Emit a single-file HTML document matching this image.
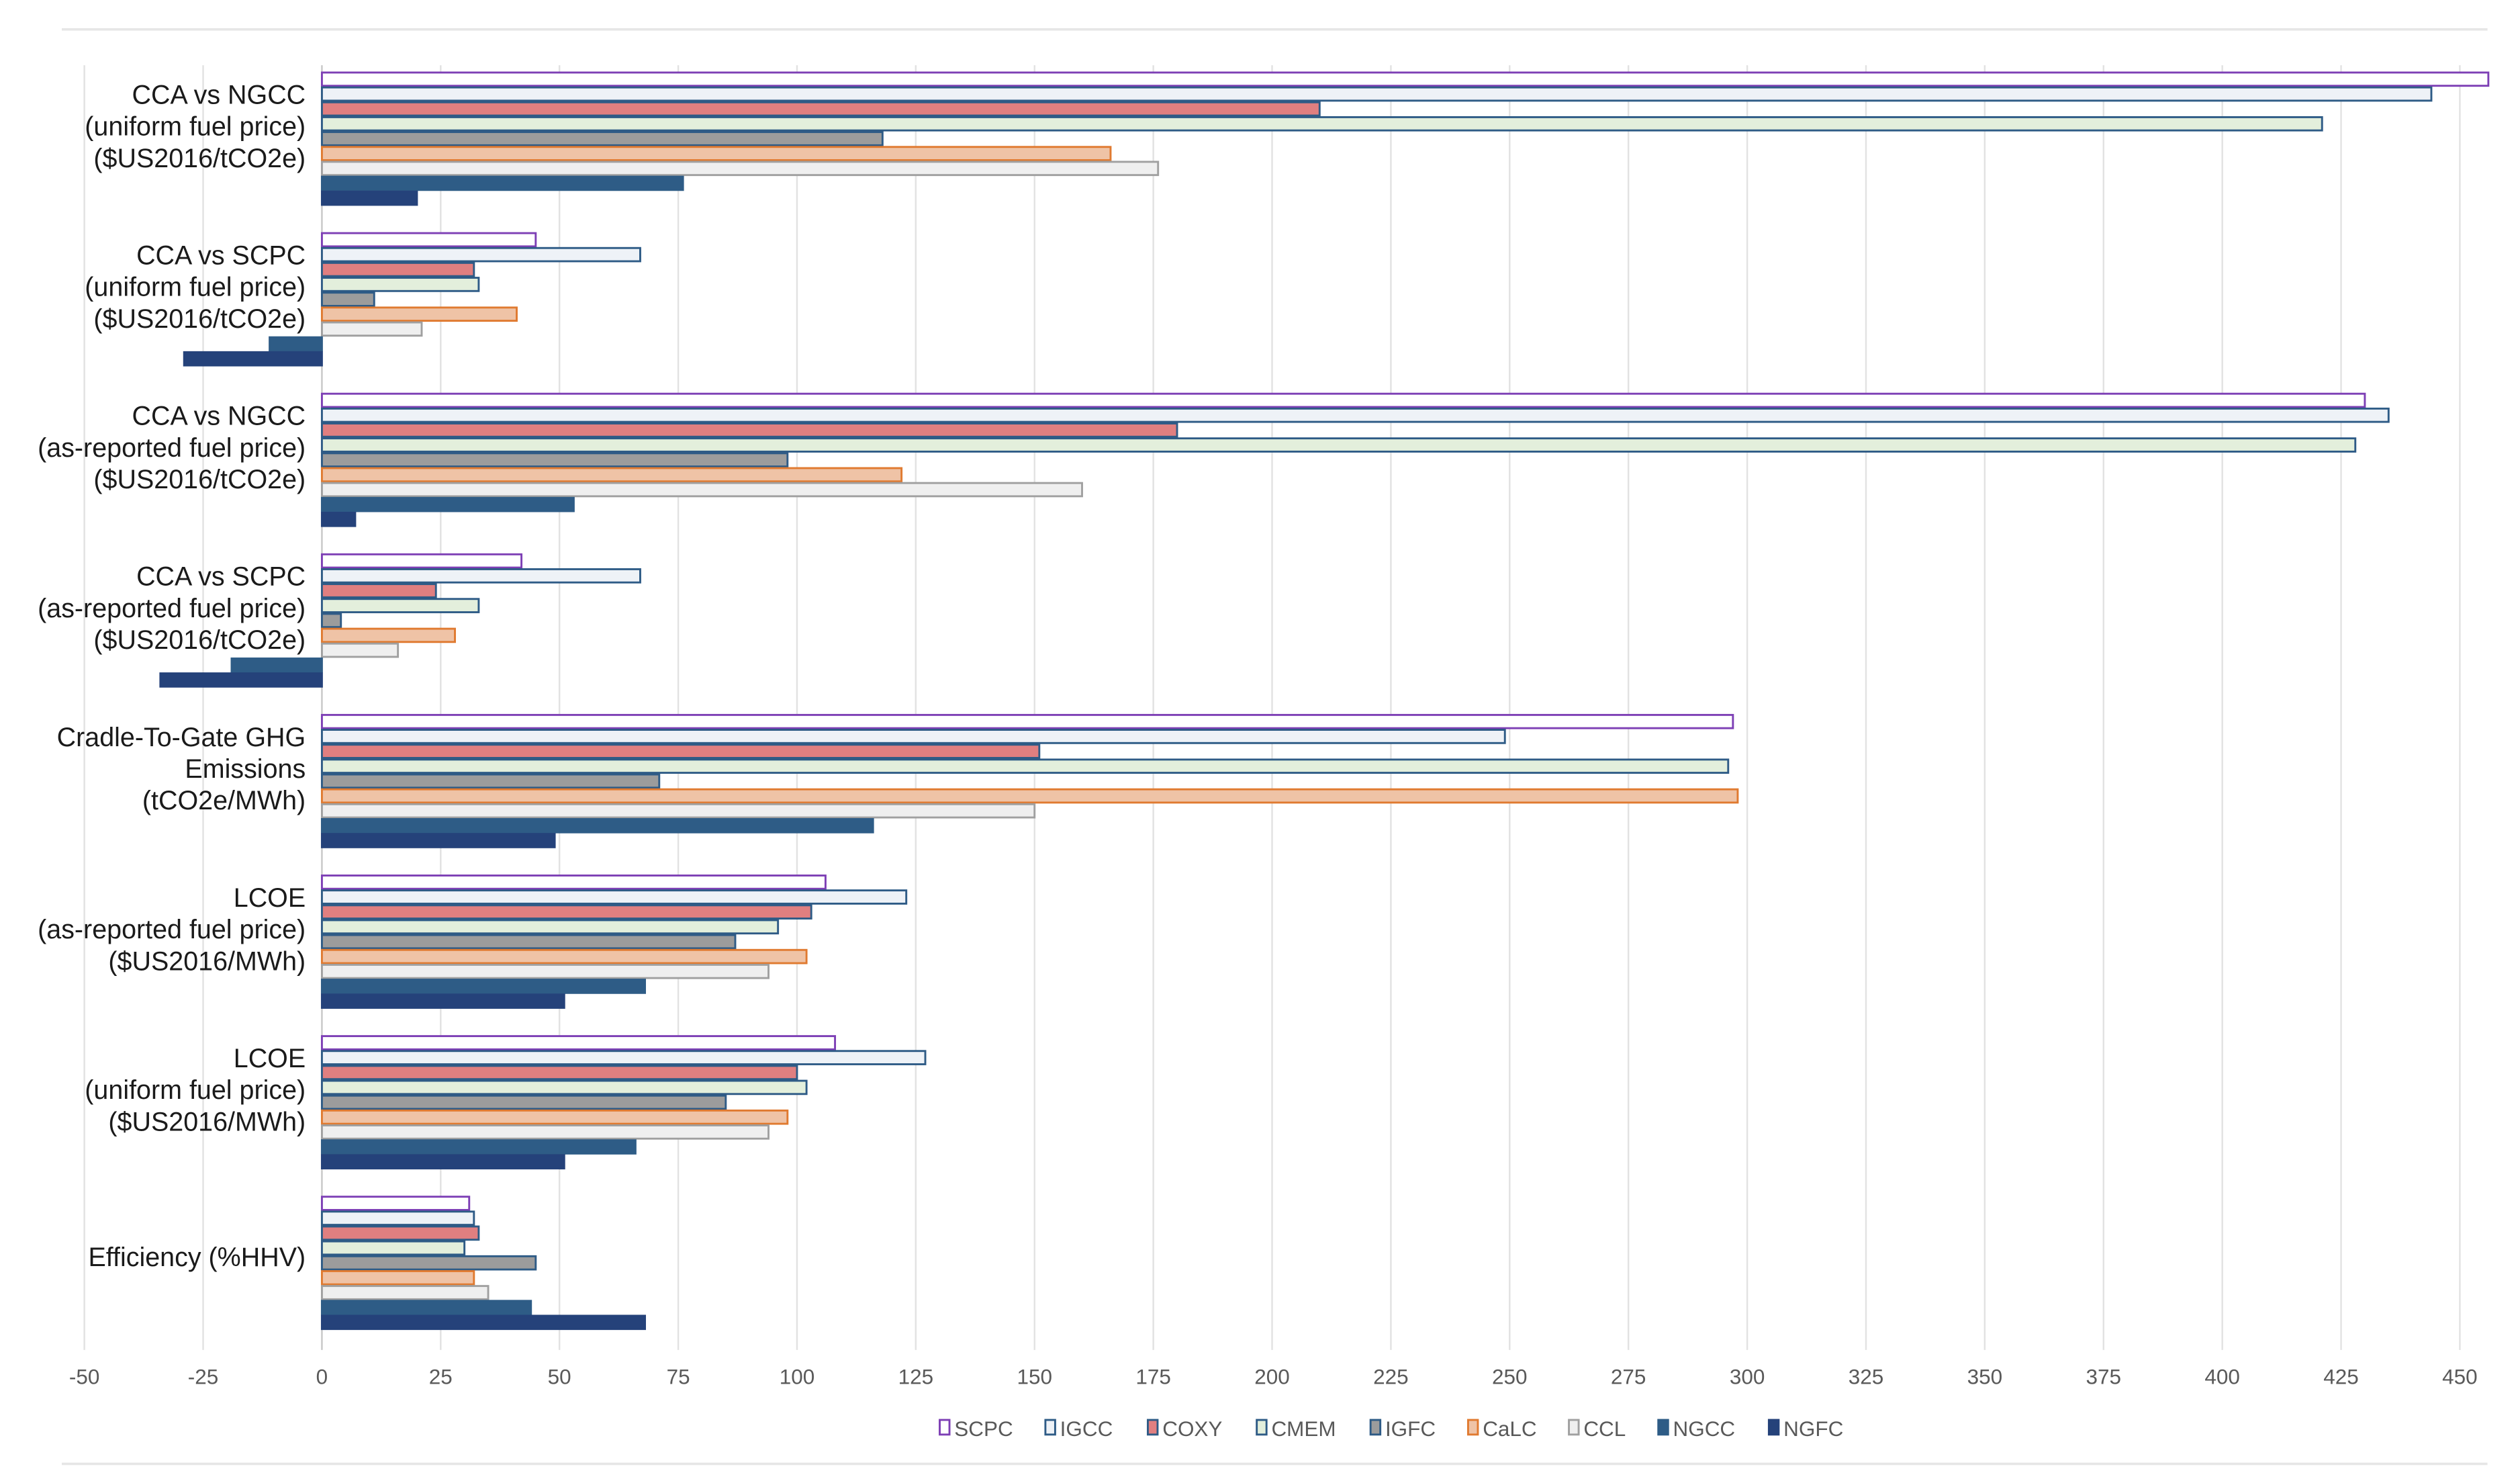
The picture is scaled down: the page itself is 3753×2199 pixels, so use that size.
<!DOCTYPE html>
<html><head><meta charset="utf-8"><style>
html,body{margin:0;padding:0;background:#fff;}
svg{display:block;font-family:"Liberation Sans",Arial,sans-serif;}
</style></head><body>
<svg id="chart" width="3753" height="2199" viewBox="0 0 1550 908" xmlns="http://www.w3.org/2000/svg">
<line x1="38" y1="18" x2="1530" y2="18" stroke="#e6e6e6" stroke-width="1.5"/>
<line x1="38" y1="900" x2="1530" y2="900" stroke="#e6e6e6" stroke-width="1.5"/>
<g id="grid"></g>
<g id="bars"></g>
<g id="labels"></g>
<g id="ticks"></g>
<g id="legend"></g>
</svg>
<script>
const categories = [
  ["CCA vs NGCC","(uniform fuel price)","($US2016/tCO2e)"],
  ["CCA vs SCPC","(uniform fuel price)","($US2016/tCO2e)"],
  ["CCA vs NGCC","(as-reported fuel price)","($US2016/tCO2e)"],
  ["CCA vs SCPC","(as-reported fuel price)","($US2016/tCO2e)"],
  ["Cradle-To-Gate GHG","Emissions","(tCO2e/MWh)"],
  ["LCOE","(as-reported fuel price)","($US2016/MWh)"],
  ["LCOE","(uniform fuel price)","($US2016/MWh)"],
  ["Efficiency (%HHV)"]
];
const seriesNames = ["SCPC","IGCC","COXY","CMEM","IGFC","CaLC","CCL","NGCC","NGFC"];
const SCPC = [456,45,430,42,297,106,108,31];
const IGCC = [444,67,435,67,249,123,127,32];
const COXY = [210,32,180,24,151,103,100,33];
const CMEM = [421,33,428,33,296,96,102,30];
const IGFC = [118,11,98,4,71,87,85,45];
const CaLC = [166,41,122,28,298,102,98,32];
const CCL  = [176,21,160,16,150,94,94,35];
const NGCC = [76,-11,53,-19,116,68,66,44];
const NGFC = [20,-29,7,-34,49,51,51,68];
const tickValues = [-50,-25,0,25,50,75,100,125,150,175,200,225,250,275,300,325,350,375,400,425,450];

const seriesData = [SCPC,IGCC,COXY,CMEM,IGFC,CaLC,CCL,NGCC,NGFC];
const fills = ["#ffffff","#eef2f7","#e07f80","#e3efdc","#9c9c9c","#efc3a6","#efefef","#2e5c86","#25427a"];
const strokes = ["#7d3fb5","#2e5b86","#2e5b86","#2e5b86","#2e5b86","#e07a30","#a0a0a0","#2e5c86","#25427a"];
const NS="http://www.w3.org/2000/svg";
const x0=198, pxPer=(1513-198)/450, plotTop=40, plotBot=830;
const groupH=(plotBot-plotTop)/categories.length, barH=9.15, pad=4.5;
function xs(v){return x0+v*pxPer;}
function mk(tag,attrs,parent){const e=document.createElementNS(NS,tag);for(const k in attrs)e.setAttribute(k,attrs[k]);parent.appendChild(e);return e;}
const grid=document.getElementById('grid'), bars=document.getElementById('bars'), labels=document.getElementById('labels'), ticks=document.getElementById('ticks'), legend=document.getElementById('legend');
tickValues.forEach(t=>{
  const l=mk('line',{x1:xs(t),x2:xs(t),y1:plotTop,y2:plotBot,stroke:t===0?'#c8c8c8':'#e2e2e2','stroke-width':1},grid);
  
  
  const tx=mk('text',{x:xs(t),y:851,'text-anchor':'middle','font-size':13,fill:'#595959'},ticks);
  tx.textContent=t;
  
  
});
categories.forEach((lines,g)=>{
  const gt=plotTop+g*groupH;
  seriesData.forEach((arr,s)=>{
    const v=arr[g];
    const xa=Math.min(xs(0),xs(v)), w=Math.abs(xs(v)-xs(0));
    const r=mk('rect',{x:xa,y:gt+pad+s*barH,width:Math.max(w,0.5),height:barH-1,fill:fills[s],stroke:strokes[s],'stroke-width':1.2},bars);
    
    
  });
  const n=lines.length, lh=19.5;
  const cy=gt+pad+4.5*barH-(n>1?8:4);
  lines.forEach((ln,i)=>{
    const t=mk('text',{x:188,y:cy+(i-(n-1)/2)*lh+5.5,'text-anchor':'end','font-size':16.3,fill:'#1a1a1a'},labels);
    t.textContent=ln;
    
    
  });
});
const legX=[578,643,706,773,843,903,965,1020,1088];
seriesNames.forEach((n,i)=>{
  const r=mk('rect',{x:legX[i],y:873,width:6,height:9,fill:fills[i],stroke:strokes[i],'stroke-width':1.2},legend);
  
  
  const t=mk('text',{x:legX[i]+9,y:883,'font-size':13,fill:'#595959'},legend);
  t.textContent=n;
  
  
});
</script>
</body></html>
